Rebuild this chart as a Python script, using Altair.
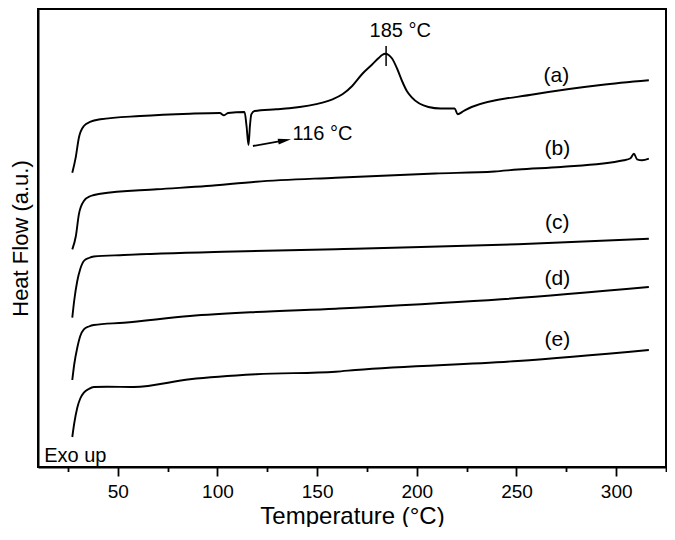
import altair as alt
import pandas as pd

# ---- data (Temperature in °C, heat flow in arbitrary units) ----
a_T = [27.2, 28.9, 30.5, 33.0, 36.4, 41.3, 61.3, 86.2, 101.2, 103.3, 105.3, 113.6, 114.6, 115.6, 116.3,
       117.0, 118.6, 129.4, 136.0, 152.7, 157.7, 162.7, 167.6, 172.6, 177.6, 180.9, 182.6, 184.2, 185.9, 187.6, 190.1,
       192.6, 195.0, 197.6, 205.8, 212.0, 219.0, 220.5, 223.5, 227.5, 259.0, 292.3, 316.4]
a_HF = [297.3, 312.3, 332.3, 344.0, 348.3, 350.7, 354.0, 356.3, 357.0, 354.7, 357.0, 358.0, 344.0, 325.0, 344.0,
        355.7, 359.0, 360.7, 361.7, 367.3, 370.7, 375.7, 384.0, 396.0, 405.5, 412.0, 415.0, 416.3, 415.0, 411.5, 401.5,
        389.0, 379.0, 372.3, 363.0, 361.5, 361.5, 355.7, 359.0, 363.0, 375.7, 385.0, 389.7]

b_T = [27.2, 29.0, 30.5, 33.0, 36.4, 41.3, 69.6, 94.5, 119.4, 159.3, 209.2, 239.0, 250.7, 272.3, 303.9,
       307.2, 308.9, 310.5, 313.0, 316.4]
b_HF = [220.7, 234.0, 255.7, 269.0, 274.0, 276.3, 280.7, 284.0, 288.3, 292.3, 296.5, 298.5, 300.5, 303.0, 309.7,
        311.7, 316.3, 310.7, 309.7, 311.3]

c_T = [27.2, 28.2, 29.7, 31.2, 33.0, 35.5, 38.0, 53.0, 102.9, 159.3, 169.3, 250.7, 316.4]
c_HF = [152.3, 170.0, 189.0, 201.0, 209.0, 212.0, 213.5, 215.0, 218.3, 220.7, 221.3, 225.7, 231.3]

d_T = [27.2, 28.2, 29.7, 31.2, 33.0, 35.5, 38.0, 53.0, 86.2, 119.4, 159.3, 169.3, 242.4, 316.4]
d_HF = [90.0, 106.0, 122.3, 134.0, 140.7, 143.5, 145.0, 147.3, 154.0, 158.0, 161.3, 162.3, 170.7, 183.0]

e_T = [27.2, 28.2, 29.7, 31.2, 33.0, 35.5, 38.0, 44.6, 58.0, 86.2, 119.4, 159.3, 169.3, 250.7, 316.4]
e_HF = [33.0, 47.0, 62.3, 71.5, 77.3, 81.0, 83.0, 83.3, 83.0, 90.7, 95.7, 98.3, 100.0, 109.0, 120.0]

label_text = ["(a)", "(b)", "(c)", "(d)", "(e)"]
label_T = [270.0, 270.5, 270.5, 270.5, 270.5]
label_HF = [394.0, 321.0, 247.0, 191.0, 130.0]

peak_T = 184.6
peak_HF = [404.0, 424.0]
peak_text = "185 °C"
peak_text_T = 191.7
peak_text_HF = 439.0

dip_text = "116 °C"
dip_text_T = 137.7
dip_text_HF = 335.7
arrow_T = [117.8, 133.7]
arrow_HF = [324.0, 329.6]

exo_text = "Exo up"
exo_T = 13.1
exo_HF = 14.0

# ---- tables ----
rows = []
for name, Ts, Hs in [("a", a_T, a_HF), ("b", b_T, b_HF), ("c", c_T, c_HF), ("d", d_T, d_HF), ("e", e_T, e_HF)]:
    for i, (t, h) in enumerate(zip(Ts, Hs)):
        rows.append({"series": name, "T": t, "HF": h, "i": i})
df = pd.DataFrame(rows)

labels_df = pd.DataFrame({"text": label_text, "T": label_T, "HF": label_HF})
center_df = pd.DataFrame({"text": [peak_text], "T": [peak_text_T], "HF": [peak_text_HF]})
left_df = pd.DataFrame({"text": [dip_text, exo_text], "T": [dip_text_T, exo_T], "HF": [dip_text_HF, exo_HF]})
peak_df = pd.DataFrame({"T": [peak_T], "HF": [peak_HF[0]], "HF2": [peak_HF[1]]})
arrow_df = pd.DataFrame({"T": arrow_T, "HF": arrow_HF, "i": [0, 1]})
head_df = pd.DataFrame({"T": [arrow_T[1]], "HF": [arrow_HF[1]]})

FONT = "Liberation Sans"
x_scale = alt.Scale(domain=[10, 325], nice=False, zero=False)
y_scale = alt.Scale(domain=[3, 461], nice=False, zero=False)

x_axis = alt.Axis(
    values=list(range(25, 326, 25)),
    labelExpr="datum.value % 50 === 0 ? datum.label : ''",
    tickSize={"condition": {"test": "datum.value % 50 === 0", "value": 9}, "value": 4.5},
    tickWidth=1.8, tickColor="black",
    domainColor="black", domainWidth=2,
    labelFont=FONT, labelFontSize=19, labelColor="black", labelPadding=6,
    title="Temperature (°C)", titleFont=FONT, titleFontSize=24, titleFontWeight="normal",
    titleColor="black", titlePadding=3, grid=False,
)
y_axis = alt.Axis(
    labels=False, ticks=False, grid=False,
    domainColor="black", domainWidth=2,
    title="Heat Flow (a.u.)", titleFont=FONT, titleFontSize=22, titleFontWeight="normal",
    titleColor="black", titlePadding=6,
)

X = alt.X("T:Q", scale=x_scale, axis=x_axis)
Y = alt.Y("HF:Q", scale=y_scale, axis=y_axis)

lines = alt.Chart(df).mark_line(color="black", strokeWidth=1.9, strokeJoin="round",
                                interpolate="monotone").encode(
    x=X, y=Y, detail="series:N", order="i:Q"
)

labels = alt.Chart(labels_df).mark_text(font=FONT, fontSize=21, color="black", align="center",
                                        baseline="middle").encode(
    x=alt.X("T:Q", scale=x_scale), y=alt.Y("HF:Q", scale=y_scale), text="text:N"
)

notes_center = alt.Chart(center_df).mark_text(
    font=FONT, fontSize=20, color="black", align="center", baseline="middle").encode(
    x=alt.X("T:Q", scale=x_scale), y=alt.Y("HF:Q", scale=y_scale), text="text:N"
)
notes_left = alt.Chart(left_df).mark_text(
    font=FONT, fontSize=20, color="black", align="left", baseline="middle").encode(
    x=alt.X("T:Q", scale=x_scale), y=alt.Y("HF:Q", scale=y_scale), text="text:N"
)

peak_mark = alt.Chart(peak_df).mark_rule(color="black", strokeWidth=1.5).encode(
    x=alt.X("T:Q", scale=x_scale), y=alt.Y("HF:Q", scale=y_scale), y2="HF2:Q"
)

arrow_line = alt.Chart(arrow_df).mark_line(color="black", strokeWidth=1.8).encode(
    x=alt.X("T:Q", scale=x_scale), y=alt.Y("HF:Q", scale=y_scale), order="i:Q"
)
arrow_head = alt.Chart(head_df).mark_point(
    shape="M-1,-0.45L1,0L-1,0.45Z", filled=True, color="black", size=170, angle=350, opacity=1
).encode(x=alt.X("T:Q", scale=x_scale), y=alt.Y("HF:Q", scale=y_scale))

chart = alt.layer(lines, labels, notes_center, notes_left, peak_mark, arrow_line, arrow_head).properties(
    width=628, height=458,
    padding={"left": 30, "top": 1, "right": 1, "bottom": 60},
    autosize=alt.AutoSizeParams(type="none"),
    background="white",
    view=alt.ViewBackground(stroke="black", strokeWidth=2),
).configure_view(stroke="black", strokeWidth=2)

chart.save("out.html", embed_options={"renderer": "svg", "actions": False})
